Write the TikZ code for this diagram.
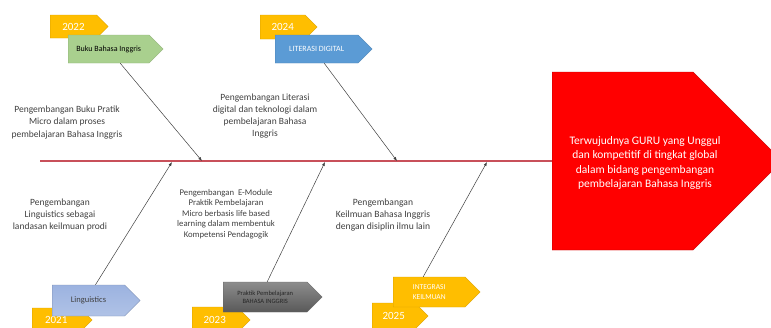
\documentclass[tikz,border=0pt]{standalone}
\usepackage{fontspec}
\setmainfont{Carlito}
\usetikzlibrary{shapes.symbols,arrows.meta}

\definecolor{yeargold}{HTML}{FFBE00}
\definecolor{bukugreen}{HTML}{A9D08E}
\definecolor{litblue}{HTML}{5B9BD5}
\definecolor{lingblue}{HTML}{9CB3E0}
\definecolor{headred}{HTML}{FF0000}
\definecolor{spinered}{HTML}{C8505A}
\definecolor{notegray}{HTML}{404040}

\tikzset{
  tag/.style={signal, signal to=east, signal pointer angle=90, inner sep=0pt,
    anchor=west, align=center, font=\fontsize{8}{9.5}\selectfont},
  yeartag/.style={tag, fill=yeargold, draw=yeargold!85!black, line width=0.4pt,
    text=white, font=\fontsize{11}{12}\selectfont},
  note/.style={align=center, text=notegray, font=\fontsize{9.5}{12.3}\selectfont},
  bone/.style={draw=notegray, line width=0.5pt, -{Latex[length=4pt,width=3pt]}},
}

\begin{document}
\begin{tikzpicture}[x=1pt,y=-1pt]
    \useasboundingbox (0,0) rectangle (771,327);
    % fish head
    \node[tag, fill=headred, draw=headred!75!black,
      minimum width=230pt, minimum height=178pt] (head) at (552,161) {};
    \node[align=center, text=white, font=\fontsize{11.5}{14.5}\selectfont] (goal) at (645,163)
      {Terwujudnya GURU yang Unggul\\dan kompetitif di tingkat global\\dalam bidang pengembangan\\pembelajaran Bahasa Inggris};
    % spine
    \coordinate (tail) at (40,161);
    \draw[spinered, line width=1.2pt] (tail) -- (head.west);
    \coordinate (s1) at (202,161);
    \coordinate (s2) at (397,161);
    \coordinate (s3) at (172,162);
    \coordinate (s4) at (325,162);
    \coordinate (s5) at (487,162);
    % upper tags
    \node[yeartag, minimum width=58pt, minimum height=23pt] (y22) at (50,26.5) {2022};
    \node[tag, fill=bukugreen, draw=bukugreen!85!black, minimum width=95pt, minimum height=28pt] (buku) at (68,49) {Buku Bahasa Inggris};
    \node[yeartag, minimum width=57pt, minimum height=24pt] (y24) at (260,27) {2024};
    \node[tag, fill=litblue, draw=litblue!85!black, text=white, minimum width=97pt, minimum height=28pt] (lit) at (275,49) {LITERASI DIGITAL};
    % lower tags
    \node[yeartag, minimum width=60pt, minimum height=24pt] (y21) at (32,320) {2021};
    \node[tag, top color=lingblue, bottom color=lingblue!80!white, draw=lingblue!80!black, text=notegray,
      minimum width=88pt, minimum height=31pt, font=\fontsize{8.5}{10}\selectfont] (ling) at (52,300.5) {Linguistics};
    \node[yeartag, minimum width=58pt, minimum height=26pt] (y23) at (192,320) {2023};
    \node[tag, top color=black!45, bottom color=black!65, draw=black!60, text=black!85,
      minimum width=99pt, minimum height=30pt, font=\fontsize{6.5}{8}\selectfont] (prak) at (223,297) {Praktik Pembelajaran\\BAHASA INGGRIS};
    \node[yeartag, minimum width=56pt, minimum height=26pt] (y25) at (372,316) {2025};
    \node[tag, fill=yeargold, draw=yeargold!85!black, text=white, minimum width=87pt, minimum height=30pt,
      font=\fontsize{7.5}{9.5}\selectfont] (integ) at (393,292) {INTEGRASI\\KEILMUAN};
    % bones
    \draw[bone] ([xshift=11.5pt]buku.south) -- (s1);
    \draw[bone] ([xshift=7.5pt]lit.south) -- (s2);
    \draw[bone] ([xshift=7pt]ling.north) -- (s3);
    \draw[bone] ([xshift=2pt]prak.north) -- (s4);
    \draw[bone] ([xshift=-6pt]integ.north) -- (s5);
    % notes
    \node[note] (n1) at (67,122.5) {Pengembangan Buku Pratik\\Micro dalam proses\\pembelajaran Bahasa Inggris};
    \node[note] (n2) at (265,116) {Pengembangan Literasi\\digital dan teknologi dalam\\pembelajaran Bahasa\\Inggris};
    \node[note] (n3) at (60,215) {Pengembangan\\Linguistics sebagai\\landasan keilmuan prodi};
    \node[note, font=\fontsize{8.7}{10.5}\selectfont] (n4) at (226,214) {Pengembangan\ \ E-Module\\Praktik Pembelajaran\\Micro berbasis life based\\learning dalam membentuk\\Kompetensi Pendagogik};
    \node[note, font=\fontsize{9.6}{12}\selectfont] (n5) at (383,215) {Pengembangan\\Keilmuan Bahasa Inggris\\dengan disiplin ilmu lain};
\end{tikzpicture}
\end{document}
